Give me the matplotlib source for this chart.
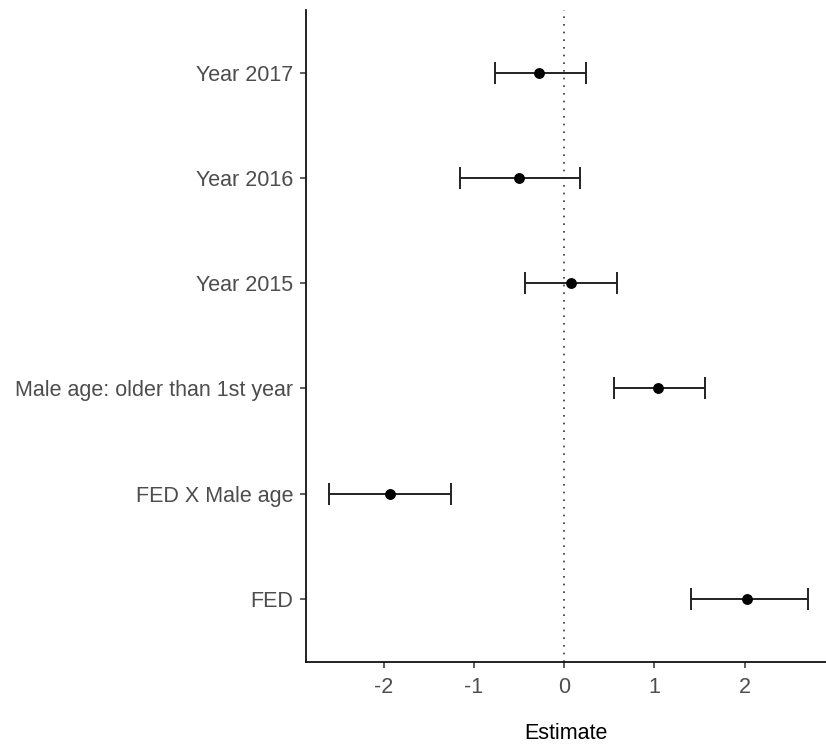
import matplotlib
matplotlib.use("Agg")
import matplotlib.pyplot as plt

# Model terms (bottom to top) with estimates and confidence limits
terms = ["FED", "FED X Male age", "Male age: older than 1st year",
         "Year 2015", "Year 2016", "Year 2017"]
estimate = [2.03, -1.93, 1.04, 0.07, -0.50, -0.28]
ci_low = [1.40, -2.61, 0.55, -0.44, -1.16, -0.77]
ci_high = [2.70, -1.25, 1.56, 0.59, 0.17, 0.24]
x_ticks = [-2, -1, 0, 1, 2]

plt.rcParams["font.family"] = ["Liberation Sans", "DejaVu Sans"]

fig = plt.figure(figsize=(8.26, 7.45), dpi=100)
ax = fig.add_axes([0.370, 0.1117, 0.630, 0.875])

ypos = list(range(1, len(terms) + 1))
xerr = [[e - lo for e, lo in zip(estimate, ci_low)],
        [hi - e for e, hi in zip(estimate, ci_high)]]

ax.axvline(0, color="#333333", linestyle=(0, (1, 3.6)), linewidth=1.2, zorder=1)
ax.errorbar(estimate, ypos, xerr=xerr, fmt="none", ecolor="#222222",
            elinewidth=1.4, capsize=7.8, capthick=1.4, zorder=2)
ax.plot(estimate, ypos, "o", color="black", markersize=6.8, zorder=3)

ax.set_xlim(-2.865, 2.90)
ax.set_ylim(0.4, len(terms) + 0.6)
ax.set_yticks(ypos)
ax.set_yticklabels(terms)
ax.set_xticks(x_ticks)
ax.set_xticklabels([str(t) for t in x_ticks])

for side in ("top", "right"):
    ax.spines[side].set_visible(False)
for side in ("left", "bottom"):
    ax.spines[side].set_color("#111111")
    ax.spines[side].set_linewidth(1.3)

ax.tick_params(axis="both", colors="#333333", labelcolor="#4D4D4D",
               labelsize=15.5, length=4, width=1.1)
ax.tick_params(axis="x", pad=7)
ax.tick_params(axis="y", pad=5)
ax.set_xlabel("Estimate", fontsize=15.5, color="black", labelpad=18)

fig.savefig("out.png", dpi=100)
